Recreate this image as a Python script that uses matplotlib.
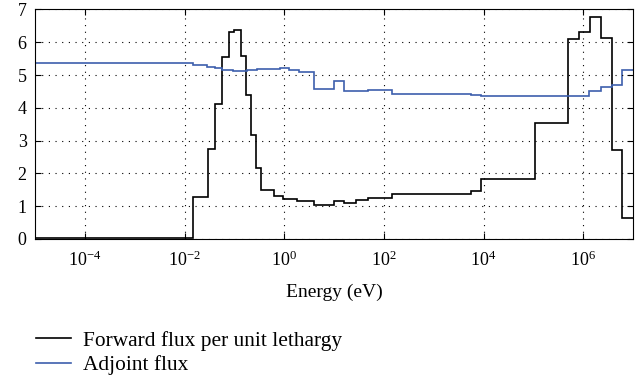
import numpy as np
import matplotlib
matplotlib.use("Agg")
import matplotlib.pyplot as plt

plt.rcParams['font.family'] = ['Liberation Serif', 'DejaVu Serif']
plt.rcParams['mathtext.fontset'] = 'stix'

# group boundaries (log10 of energy in eV) and values per group
fwd_edges = [-5, -1.83, -1.52, -1.38, -1.24, -1.11, -1.0, -0.86, -0.76, -0.67, -0.56,
             -0.46, -0.2, -0.03, 0.25, 0.59, 0.99, 1.2, 1.44, 1.69, 2.17, 3.74, 3.95,
             5.04, 5.69, 5.91, 6.13, 6.35, 6.57, 6.77, 7.0]
fwd_flux = [0.03, 1.28, 2.73, 4.12, 5.55, 6.31, 6.38, 5.57, 4.4, 3.16, 2.17, 1.5, 1.3,
            1.22, 1.17, 1.05, 1.15, 1.1, 1.18, 1.25, 1.37, 1.46, 1.82, 3.54, 6.1, 6.3,
            6.78, 6.13, 2.72, 0.65]

adj_edges = [-5, -1.83, -1.55, -1.38, -1.24, -1.02, -0.75, -0.55, -0.08, 0.09, 0.29,
             0.6, 0.99, 1.2, 1.69, 2.17, 3.74, 3.95, 6.12, 6.35, 6.57, 6.77, 7.0]
adj_flux = [5.38, 5.31, 5.26, 5.21, 5.16, 5.12, 5.15, 5.19, 5.23, 5.16, 5.09, 4.58,
            4.81, 4.52, 4.54, 4.42, 4.39, 4.37, 4.5, 4.65, 4.71, 5.15]

xticks = [1e-4, 1e-2, 1e0, 1e2, 1e4, 1e6]

fig = plt.figure(figsize=(6.41, 3.79), dpi=100)
ax = fig.add_axes([0.0546, 0.3694, 0.933, 0.6056])

h1 = ax.stairs(fwd_flux, 10 ** np.array(fwd_edges), baseline=None,
               color='black', lw=1.2, label='Forward flux per unit lethargy')
h2 = ax.stairs(adj_flux, 10 ** np.array(adj_edges), baseline=None,
               color='#3D5FAD', lw=1.2, label='Adjoint flux')

ax.set_xscale('log')
ax.set_xlim(1e-5, 1e7)
ax.set_ylim(0, 7)
ax.set_xticks(xticks)
ax.xaxis.set_minor_locator(matplotlib.ticker.NullLocator())
ax.set_yticks(range(8))
ax.tick_params(direction='in', top=True, right=True, labelsize=13, length=4)
ax.tick_params(axis='x', pad=8)
ax.tick_params(axis='y', pad=6)
ax.grid(True, linestyle=(0, (1, 5)), color='black', lw=0.8)
for s in ax.spines.values():
    s.set_linewidth(0.8)

ax.set_xlabel('Energy (eV)', fontsize=14, labelpad=10)

fig.legend(handles=[h1, h2], loc='upper left', bbox_to_anchor=(0.056, 0.127),
           frameon=False, fontsize=15.4, handlelength=1.64, handletextpad=0.56,
           labelspacing=0.2, borderaxespad=0, borderpad=0)

fig.savefig('out.png', dpi=100)
